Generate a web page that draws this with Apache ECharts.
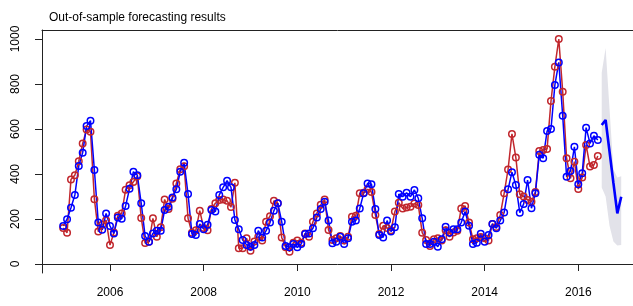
<!DOCTYPE html>
<html>
<head>
<meta charset="utf-8">
<script src="https://cdn.jsdelivr.net/npm/echarts@6/dist/echarts.min.js"></script>
<style>
html, body { margin: 0; padding: 0; background: #fff; }
#chart { width: 633px; height: 306px; }
</style>
</head>
<body>
<div id="chart"></div>
<script>
// monthly data, first month = Jan 2005
var startYear = 2005;

// observed series (red)
var actual = [
    160, 139, 376, 395, 457, 536, 598, 588, 288, 144, 175, 195,
    84, 140, 215, 225, 330, 350, 365, 390, 205, 93, 99, 203,
    121, 163, 287, 244, 290, 358, 421, 435, 203, 139, 150, 237,
    160, 150, 245, 270, 284, 287, 281, 253, 361, 70, 70, 114,
    59, 100, 121, 105, 188, 212, 281, 270, 118, 75, 55, 95,
    104, 95, 136, 121, 188, 225, 263, 287, 151, 107, 114, 125,
    105, 121, 210, 215, 314, 317, 332, 320, 218, 133, 170, 160,
    150, 233, 272, 247, 251, 255, 269, 262, 139, 107, 80, 110,
    114, 105, 150, 121, 140, 148, 247, 258, 185, 110, 115, 120,
    115, 105, 178, 165, 218, 314, 420, 578, 473, 310, 300, 285,
    277, 320, 502, 507, 511, 724, 877, 1000, 766, 470, 381, 455,
    333, 384, 529, 433, 440, 480
];

// in-sample fit (blue)
var fitted = [
    169, 199, 250, 307, 436, 495, 613, 637, 418, 184, 152, 225,
    169, 136, 207, 201, 258, 334, 410, 395, 270, 124, 99, 136,
    148, 148, 240, 255, 296, 332, 410, 450, 311, 133, 129, 178,
    155, 174, 240, 233, 307, 341, 370, 341, 196, 155, 107, 85,
    77, 84, 148, 118, 148, 184, 237, 270, 188, 80, 74, 89,
    74, 89, 133, 136, 159, 207, 244, 277, 193, 92, 99, 121,
    89, 114, 188, 193, 247, 314, 358, 355, 244, 129, 118, 193,
    144, 163, 311, 299, 317, 299, 329, 292, 203, 89, 89, 99,
    77, 110, 166, 139, 155, 155, 184, 233, 170, 89, 95, 134,
    99, 129, 178, 159, 193, 229, 332, 408, 351, 228, 267, 373,
    248, 314, 486, 470, 591, 600, 796, 896, 659, 388, 413, 521,
    354, 403, 606, 536, 570, 551
];

// out-of-sample forecast, Jul-Dec 2016
var forecast = [618, 640, 500, 360, 225, 299];
var lower = [340, 300, 170, 100, 82, 85];
var upper = [850, 960, 690, 420, 385, 390];

var xTicks = [2006, 2008, 2010, 2012, 2014, 2016];
var yTicks = [0, 200, 400, 600, 800, 1000];

function toPoints(values, offset) {
    return values.map(function (v, i) {
        return [startYear + (i + offset) / 12, v];
    });
}

var fcOffset = actual.length;
var upperPts = toPoints(upper, fcOffset);
var lowerPts = toPoints(lower, fcOffset);

var font = 'Liberation Sans, Arial, sans-serif';
var boxLine = { show: true, lineStyle: { color: '#222', width: 1 } };
var xMin = 2004.548, xMax = 2017.168;

var chart = echarts.init(document.getElementById('chart'));
var option = {
    animation: false,
    title: {
        text: 'Out-of-sample forecasting results',
        left: 44,
        top: 7,
        textStyle: { fontFamily: font, fontSize: 12, fontWeight: 'normal', color: '#000' }
    },
    grid: { left: 42, top: 30, bottom: 33, right: 0 },
    xAxis: [
        {
            type: 'value',
            min: xMin,
            max: xMax,
            splitLine: { show: false },
            axisLine: boxLine,
            axisTick: {
                show: true, length: 7, inside: false,
                lineStyle: { color: '#222' },
                customValues: xTicks
            },
            axisLabel: {
                margin: 14,
                fontFamily: font, fontSize: 12, color: '#000',
                customValues: xTicks,
                formatter: function (v) { return String(v); }
            }
        },
        {
            // top edge of the box
            type: 'value',
            position: 'top',
            min: xMin,
            max: xMax,
            splitLine: { show: false },
            axisLine: boxLine,
            axisTick: { show: false },
            axisLabel: { show: false }
        }
    ],
    yAxis: {
        type: 'value',
        min: -40,
        max: 1040,
        splitLine: { show: false },
        axisLine: boxLine,
        axisTick: {
            show: true, length: 7, inside: false,
            lineStyle: { color: '#222' },
            customValues: yTicks
        },
        axisLabel: {
            margin: 20,
            rotate: 90,
            fontFamily: font, fontSize: 12, color: '#000',
            customValues: yTicks,
            formatter: function (v) { return String(v); }
        }
    },
    series: [
        {
            // prediction interval
            type: 'custom',
            silent: true,
            data: upperPts,
            renderItem: function (params, api) {
                if (params.dataIndex !== 0) return null;
                var pts = upperPts.map(function (p) { return api.coord(p); });
                for (var i = lowerPts.length - 1; i >= 0; i--) {
                    pts.push(api.coord(lowerPts[i]));
                }
                return { type: 'polygon', shape: { points: pts }, style: { fill: '#e2e2e9' } };
            }
        },
        {
            name: 'actual',
            type: 'line',
            data: toPoints(actual, 0),
            symbol: 'circle',
            symbolSize: 6.5,
            itemStyle: { color: 'rgba(0,0,0,0)', borderColor: '#c1272d', borderWidth: 1.5 },
            lineStyle: { color: '#c1272d', width: 1.5 }
        },
        {
            name: 'fitted',
            type: 'line',
            data: toPoints(fitted, 0),
            symbol: 'circle',
            symbolSize: 6.5,
            itemStyle: { color: 'rgba(0,0,0,0)', borderColor: '#0000ff', borderWidth: 1.5 },
            lineStyle: { color: '#0000ff', width: 1.5 }
        },
        {
            name: 'forecast',
            type: 'line',
            data: toPoints(forecast, fcOffset),
            symbol: 'none',
            lineStyle: { color: '#0000ff', width: 2.6 }
        }
    ]
};
chart.setOption(option);
</script>
</body>
</html>
